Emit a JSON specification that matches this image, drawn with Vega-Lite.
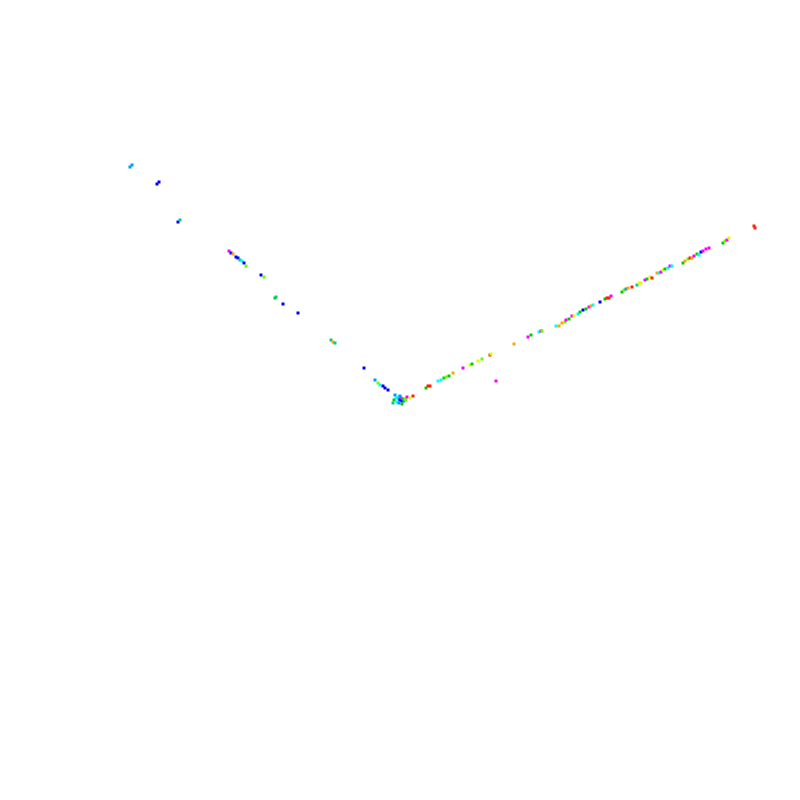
{
  "$schema": "https://vega.github.io/schema/vega-lite/v6.json",
  "autosize": {"type": "fit", "contains": "padding"},
  "width": 800,
  "height": 800,
  "padding": 0,
  "background": "white",
  "config": {"view": {"stroke": null}},
  "data": {
    "values": [
      {"x": 13.0, "y": 63.3, "c": "h"}, {"x": 13.2, "y": 63.5, "c": "h"},
      {"x": 15.7, "y": 61.6, "c": "i"}, {"x": 15.9, "y": 61.8, "c": "i"},
      {"x": 17.8, "y": 57.8, "c": "i"}, {"x": 18.0, "y": 58.0, "c": "f"},
      {"x": 22.9, "y": 54.9, "c": "j"}, {"x": 23.1, "y": 54.7, "c": "i"},
      {"x": 23.3, "y": 54.6, "c": "b"}, {"x": 23.6, "y": 54.3, "c": "i"},
      {"x": 23.8, "y": 54.2, "c": "i"}, {"x": 24.0, "y": 54.0, "c": "f"},
      {"x": 24.2, "y": 53.9, "c": "g"}, {"x": 24.4, "y": 53.7, "c": "i"},
      {"x": 24.6, "y": 53.4, "c": "d"}, {"x": 26.1, "y": 52.5, "c": "i"},
      {"x": 26.4, "y": 52.3, "c": "d"}, {"x": 27.5, "y": 50.2, "c": "e"},
      {"x": 27.6, "y": 50.3, "c": "f"}, {"x": 28.3, "y": 49.6, "c": "i"},
      {"x": 29.8, "y": 48.7, "c": "i"}, {"x": 33.1, "y": 46.0, "c": "f"},
      {"x": 33.3, "y": 45.8, "c": "b"}, {"x": 33.5, "y": 45.7, "c": "f"},
      {"x": 36.4, "y": 43.2, "c": "i"}, {"x": 37.5, "y": 42.0, "c": "h"},
      {"x": 37.8, "y": 41.7, "c": "d"}, {"x": 38.0, "y": 41.5, "c": "g"},
      {"x": 38.3, "y": 41.4, "c": "i"}, {"x": 38.5, "y": 41.2, "c": "i"},
      {"x": 38.8, "y": 41.0, "c": "i"}, {"x": 39.5, "y": 40.5, "c": "h"},
      {"x": 39.6, "y": 40.2, "c": "g"}, {"x": 39.8, "y": 40.3, "c": "g"},
      {"x": 39.9, "y": 40.1, "c": "h"}, {"x": 40.0, "y": 40.0, "c": "i"},
      {"x": 40.1, "y": 40.2, "c": "j"}, {"x": 40.2, "y": 39.9, "c": "i"},
      {"x": 40.3, "y": 40.1, "c": "e"}, {"x": 40.4, "y": 39.9, "c": "h"},
      {"x": 40.5, "y": 40.1, "c": "d"}, {"x": 39.7, "y": 39.8, "c": "g"},
      {"x": 39.3, "y": 39.7, "c": "f"}, {"x": 39.9, "y": 39.7, "c": "h"},
      {"x": 40.2, "y": 39.6, "c": "e"}, {"x": 40.6, "y": 40.0, "c": "d"},
      {"x": 40.7, "y": 40.3, "c": "j"}, {"x": 39.4, "y": 40.0, "c": "e"},
      {"x": 40.0, "y": 40.4, "c": "h"}, {"x": 41.0, "y": 40.2, "c": "c"},
      {"x": 41.3, "y": 40.4, "c": "a"}, {"x": 42.6, "y": 41.2, "c": "e"},
      {"x": 42.8, "y": 41.4, "c": "a"}, {"x": 43.0, "y": 41.4, "c": "a"},
      {"x": 43.8, "y": 41.9, "c": "g"}, {"x": 44.1, "y": 42.0, "c": "g"},
      {"x": 44.4, "y": 42.2, "c": "e"}, {"x": 44.6, "y": 42.3, "c": "d"},
      {"x": 44.9, "y": 42.4, "c": "e"}, {"x": 45.3, "y": 42.7, "c": "b"},
      {"x": 46.3, "y": 43.2, "c": "j"}, {"x": 47.0, "y": 43.5, "c": "c"},
      {"x": 47.2, "y": 43.6, "c": "e"}, {"x": 47.8, "y": 43.9, "c": "c"},
      {"x": 48.2, "y": 44.1, "c": "d"}, {"x": 49.0, "y": 44.5, "c": "a"},
      {"x": 49.1, "y": 44.6, "c": "c"}, {"x": 49.6, "y": 41.9, "c": "j"},
      {"x": 51.4, "y": 45.6, "c": "b"}, {"x": 52.8, "y": 46.3, "c": "j"},
      {"x": 53.1, "y": 46.5, "c": "e"}, {"x": 53.9, "y": 46.8, "c": "g"},
      {"x": 54.1, "y": 46.9, "c": "j"}, {"x": 54.2, "y": 46.9, "c": "d"},
      {"x": 55.6, "y": 47.4, "c": "g"}, {"x": 55.9, "y": 47.4, "c": "b"},
      {"x": 56.2, "y": 47.7, "c": "b"}, {"x": 56.5, "y": 47.8, "c": "d"},
      {"x": 56.6, "y": 48.0, "c": "j"}, {"x": 56.9, "y": 48.1, "c": "e"},
      {"x": 57.2, "y": 48.4, "c": "j"}, {"x": 57.4, "y": 48.4, "c": "c"},
      {"x": 57.8, "y": 48.6, "c": "g"}, {"x": 58.0, "y": 48.8, "c": "e"},
      {"x": 58.3, "y": 49.0, "c": "i"}, {"x": 58.6, "y": 49.1, "c": "e"},
      {"x": 58.9, "y": 49.3, "c": "j"}, {"x": 59.1, "y": 49.4, "c": "b"},
      {"x": 59.3, "y": 49.5, "c": "g"}, {"x": 60.0, "y": 49.8, "c": "i"},
      {"x": 60.5, "y": 50.1, "c": "e"}, {"x": 60.7, "y": 50.2, "c": "a"},
      {"x": 60.9, "y": 50.2, "c": "a"}, {"x": 61.1, "y": 50.4, "c": "j"},
      {"x": 62.2, "y": 50.8, "c": "e"}, {"x": 62.4, "y": 51.0, "c": "d"},
      {"x": 62.6, "y": 51.1, "c": "h"}, {"x": 62.8, "y": 51.2, "c": "b"},
      {"x": 63.2, "y": 51.3, "c": "a"}, {"x": 63.7, "y": 51.5, "c": "f"},
      {"x": 63.9, "y": 51.7, "c": "c"}, {"x": 64.1, "y": 51.7, "c": "c"},
      {"x": 64.5, "y": 52.0, "c": "j"}, {"x": 64.7, "y": 52.1, "c": "e"},
      {"x": 65.0, "y": 52.3, "c": "c"}, {"x": 65.2, "y": 52.2, "c": "a"},
      {"x": 65.7, "y": 52.7, "c": "b"}, {"x": 65.9, "y": 52.7, "c": "g"},
      {"x": 66.1, "y": 52.8, "c": "j"}, {"x": 66.3, "y": 53.0, "c": "c"},
      {"x": 66.5, "y": 53.1, "c": "e"}, {"x": 66.8, "y": 53.2, "c": "g"},
      {"x": 67.0, "y": 53.4, "c": "j"}, {"x": 67.2, "y": 53.4, "c": "g"},
      {"x": 68.3, "y": 53.7, "c": "e"}, {"x": 68.5, "y": 53.9, "c": "b"},
      {"x": 68.8, "y": 54.1, "c": "d"}, {"x": 69.0, "y": 54.2, "c": "a"},
      {"x": 69.2, "y": 54.2, "c": "b"}, {"x": 69.4, "y": 54.4, "c": "j"},
      {"x": 69.7, "y": 54.6, "c": "e"}, {"x": 69.9, "y": 54.5, "c": "g"},
      {"x": 70.1, "y": 54.8, "c": "i"}, {"x": 70.3, "y": 54.9, "c": "j"},
      {"x": 70.6, "y": 55.1, "c": "j"}, {"x": 70.9, "y": 55.2, "c": "j"},
      {"x": 72.3, "y": 55.7, "c": "e"}, {"x": 72.5, "y": 55.9, "c": "d"},
      {"x": 72.7, "y": 56.0, "c": "j"}, {"x": 72.9, "y": 56.2, "c": "c"},
      {"x": 75.4, "y": 57.4, "c": "a"}, {"x": 75.5, "y": 57.2, "c": "a"}
    ]
  },
  "mark": {"type": "square", "size": 9, "filled": true, "opacity": 1},
  "encoding": {
    "x": {"field": "x", "type": "quantitative", "axis": null, "scale": {"domain": [0, 80], "nice": false, "zero": false}},
    "y": {"field": "y", "type": "quantitative", "axis": null, "scale": {"domain": [0, 80], "nice": false, "zero": false}},
    "color": {
      "field": "c",
      "type": "nominal",
      "legend": null,
      "scale": {
        "domain": ["a", "b", "c", "d", "e", "f", "g", "h", "i", "j"],
        "range": ["#ff2200", "#ffa500", "#ddff00", "#66ff00", "#00cc00", "#00cc88", "#00ffff", "#0099ff", "#0000ff", "#ff00ff"]
      }
    }
  }
}
